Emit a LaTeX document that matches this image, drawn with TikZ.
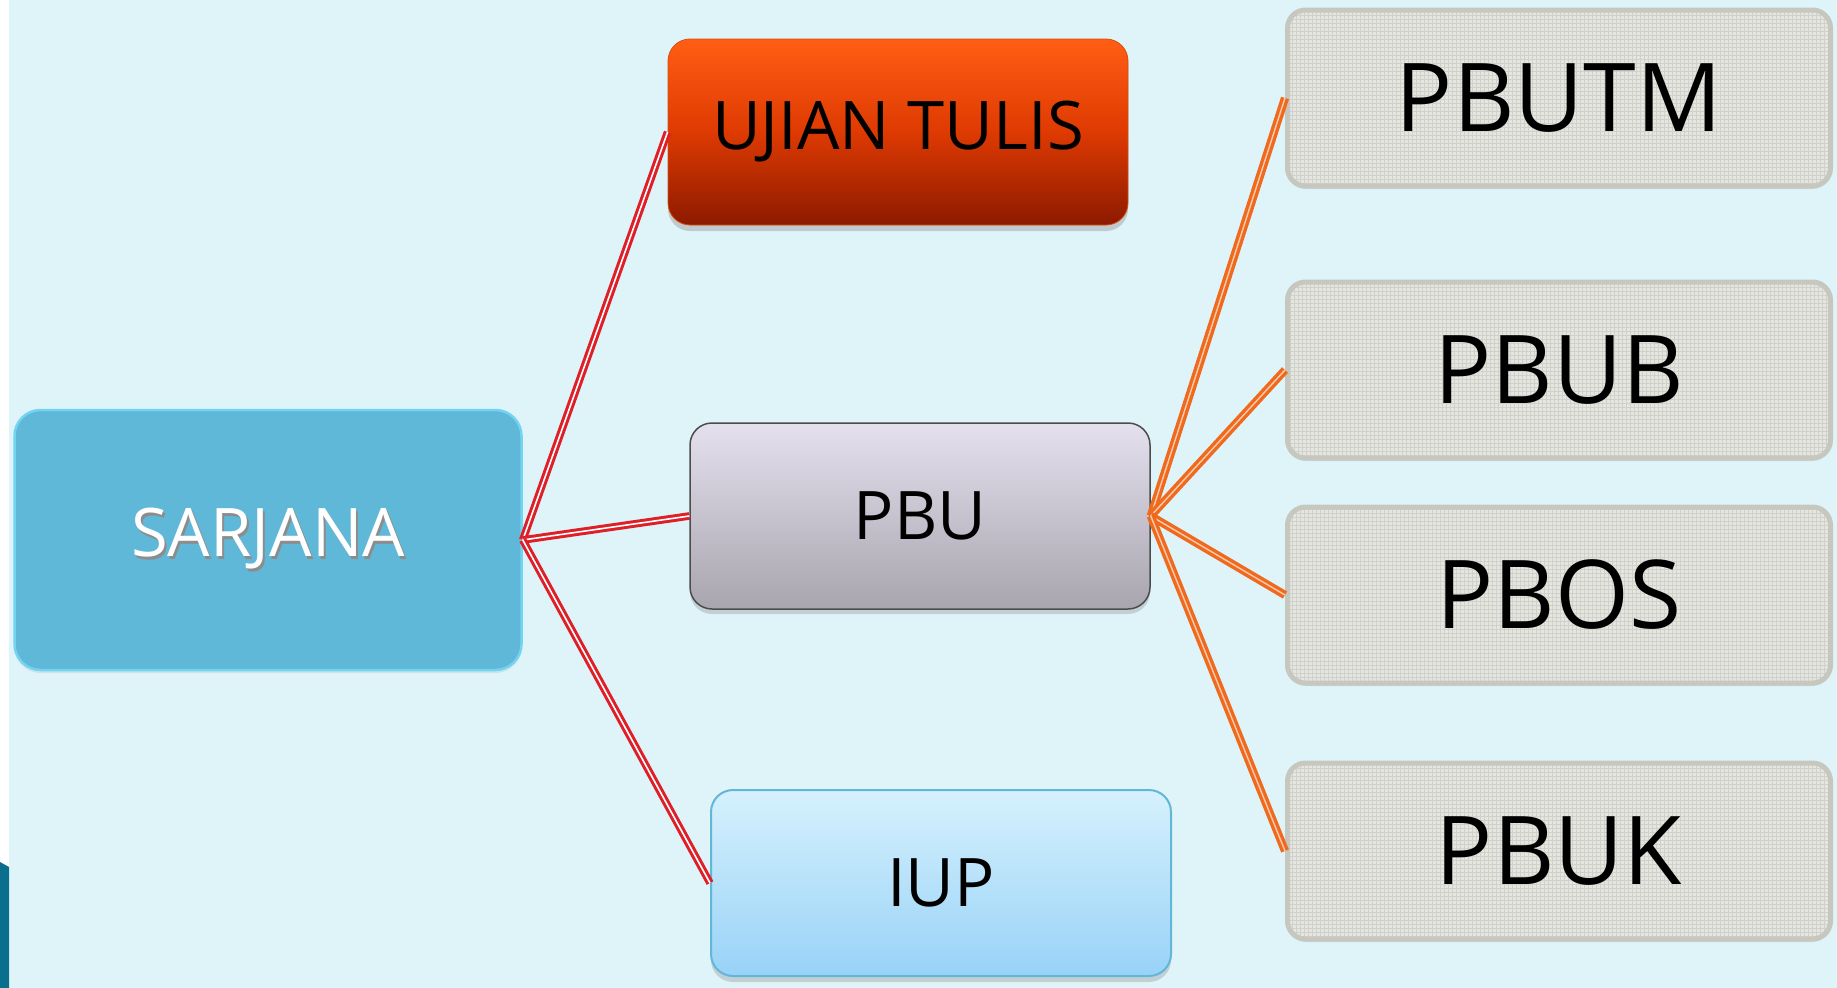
\documentclass[tikz,border=0pt]{standalone}
\usepackage{fontspec}
\setmainfont{Open Sans}
\usetikzlibrary{shadows}
\definecolor{bg}{HTML}{DFF4F9}
\definecolor{sarjfill}{HTML}{60B8D8}
\definecolor{sarjedge}{HTML}{72D4F2}
\definecolor{ujtop}{HTML}{FF5E14}
\definecolor{ujmid}{HTML}{DE3A02}
\definecolor{ujbot}{HTML}{8C1A00}
\definecolor{pbutop}{HTML}{E4E0EE}
\definecolor{pbubot}{HTML}{A8A5AE}
\definecolor{iuptop}{HTML}{D6F1FD}
\definecolor{iupbot}{HTML}{98D2F7}
\definecolor{iupedge}{HTML}{62B6D8}
\definecolor{texfill}{HTML}{E6E6E0}
\definecolor{texedge}{HTML}{C6C7BF}
\definecolor{redline}{HTML}{DE1F28}
\definecolor{orline}{HTML}{F06A1E}
\definecolor{cornerteal}{HTML}{0A6F8C}
\tikzset{
  box/.style={rectangle, rounded corners=22, align=center, inner sep=0},
  midtext/.style={font=\fontsize{67}{80}\selectfont},
  bigtext/.style={font=\fontsize{95}{110}\selectfont},
  sarjbox/.style={box, rounded corners=26, fill=sarjfill, draw=sarjedge, line width=2.5,
    minimum width=507, minimum height=260, text=white, midtext,
    drop shadow={opacity=0.15, shadow xshift=0pt, shadow yshift=-3pt}},
  ujbox/.style={box, top color=ujtop, bottom color=ujbot, middle color=ujmid, draw=ujtop!70!ujbot, line width=0.8,
    minimum width=460, minimum height=186, midtext,
    drop shadow={opacity=0.35, shadow xshift=0pt, shadow yshift=-6pt}},
  pbubox/.style={box, top color=pbutop, bottom color=pbubot, draw=black!70, line width=1.5,
    minimum width=460, minimum height=186, midtext,
    drop shadow={opacity=0.3, shadow xshift=0pt, shadow yshift=-5pt}},
  iupbox/.style={box, top color=iuptop, bottom color=iupbot, draw=iupedge, line width=2,
    minimum width=460, minimum height=186, midtext,
    drop shadow={opacity=0.3, shadow xshift=0pt, shadow yshift=-6pt}},
  texbox/.style={box, rounded corners=18, fill=texfill, draw=texedge, line width=5,
    minimum width=543, minimum height=176, bigtext,
    path picture={\draw[step=4pt, black, opacity=0.09, line width=0.7pt]
      (path picture bounding box.south west) grid (path picture bounding box.north east);},
    drop shadow={opacity=0.2, shadow xshift=0pt, shadow yshift=-3pt}},
  redlink/.style={draw=redline, double=white, line width=3, double distance=1.6},
  orlink/.style={draw=orline, double=orline!35!white, line width=3.4, double distance=1.4},
}
\begin{document}
\begin{tikzpicture}[x=1pt, y=-1pt]
\useasboundingbox (0,0) rectangle (1837,988);
\fill[white] (0,0) rectangle (1837,988);
\fill[bg] (9,0) rectangle (1837,988);
\fill[cornerteal] (0,862) -- (9,867) -- (9,988) -- (0,988) -- cycle;

\node[sarjbox] (sarj) at (268,540)
  {\makebox[0pt][l]{\hspace{2pt}\raisebox{-2.5pt}{\color{black!45}SARJANA}}SARJANA};
\node[ujbox] (ujian) at (898,132) {UJIAN TULIS};
\node[pbubox] (pbu) at (920,516) {PBU};
\node[iupbox] (iup) at (941,883) {IUP};

\node[texbox] (pbutm) at (1559,98) {PBUTM};
\node[texbox] (pbub) at (1559,370) {PBUB};
\node[texbox] (pbos) at (1559,595) {PBOS};
\node[texbox] (pbuk) at (1559,851) {PBUK};

\draw[redlink] (sarj.east) -- (ujian.west);
\draw[redlink] (sarj.east) -- (pbu.west);
\draw[redlink] (sarj.east) -- (iup.west);

\draw[orlink] (pbu.east) -- (pbutm.west);
\draw[orlink] (pbu.east) -- (pbub.west);
\draw[orlink] (pbu.east) -- (pbos.west);
\draw[orlink] (pbu.east) -- (pbuk.west);
\end{tikzpicture}
\end{document}
